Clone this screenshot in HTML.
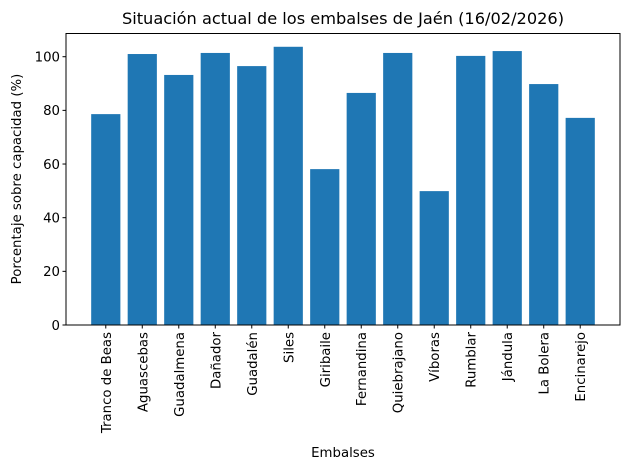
<!DOCTYPE html>
<html><head><meta charset="utf-8"><style>
body{margin:0;background:#fff}
svg{display:block;font-family:"DejaVu Sans","Liberation Sans",sans-serif}
</style></head><body>
<svg id="chart" width="630" height="470" viewBox="0 0 630 470">
<rect width="630" height="470" fill="#fff"/>
<text x="343" y="24" text-anchor="middle" font-size="16.2" fill="#000">Situación actual de los embalses de Jaén (16/02/2026)</text>
<text x="0" y="0" transform="translate(21,179) rotate(-90)" text-anchor="middle" font-size="13.3" fill="#000">Porcentaje sobre capacidad (%)</text>
<text x="343" y="457" text-anchor="middle" font-size="13.3" fill="#000">Embalses</text>
<g id="bars"></g>
<g id="yticks"></g>
<g id="xticks"></g>
<rect x="66" y="33.5" width="554" height="291.5" fill="none" stroke="#000" stroke-width="1"/>
</svg>
<script>
const categories = ["Tranco de Beas","Aguascebas","Guadalmena","Dañador","Guadalén","Siles","Giribaile","Fernandina","Quiebrajano","Víboras","Rumblar","Jándula","La Bolera","Encinarejo"];
const values = [78.6,101.0,93.2,101.4,96.5,103.7,58.1,86.5,101.4,49.9,100.3,102.1,89.8,77.2];
const yTickValues = [0,20,40,60,80,100];
const yTickLabels = ["0","20","40","60","80","100"];

const NS="http://www.w3.org/2000/svg";
const pLeft=66,pRight=620,pTop=33.5,pBottom=325;
const xmin=-1.09,xmax=categories.length-1+1.09;
const ymax=108.65;
function xScale(i){return pLeft+(i-xmin)/(xmax-xmin)*(pRight-pLeft);}
function yScale(v){return pBottom-v/ymax*(pBottom-pTop);}
const bw=0.8*(xScale(1)-xScale(0));
const gb=document.getElementById('bars'),gy=document.getElementById('yticks'),gx=document.getElementById('xticks');
function mk(t,a){const e=document.createElementNS(NS,t);for(const k in a)e.setAttribute(k,a[k]);return e;}
values.forEach((v,i)=>{
  const r=mk('rect',{x:xScale(i)-bw/2,y:yScale(v),width:bw,height:pBottom-yScale(v),fill:'#1f77b4'});
  
  
  gb.appendChild(r);
  const t=mk('line',{x1:xScale(i),x2:xScale(i),y1:pBottom,y2:pBottom+3.5,stroke:'#000'});
  
  
  gx.appendChild(t);
  const x=xScale(i)+5,y=pBottom+7;
  const l=mk('text',{x:0,y:0,transform:`translate(${x},${y}) rotate(-90)`,'text-anchor':'end','font-size':'13.3',fill:'#000'});
  l.textContent=categories[i];
  
  
  gx.appendChild(l);
});
yTickValues.forEach((v,i)=>{
  const y=yScale(v);
  const t=mk('line',{x1:pLeft-3.5,x2:pLeft,y1:y,y2:y,stroke:'#000'});
  
  
  gy.appendChild(t);
  const l=mk('text',{x:pLeft-6,y:y+4.8,'text-anchor':'end','font-size':'13.3',fill:'#000'});
  l.textContent=yTickLabels[i];
  
  
  gy.appendChild(l);
});
</script>
</body></html>
